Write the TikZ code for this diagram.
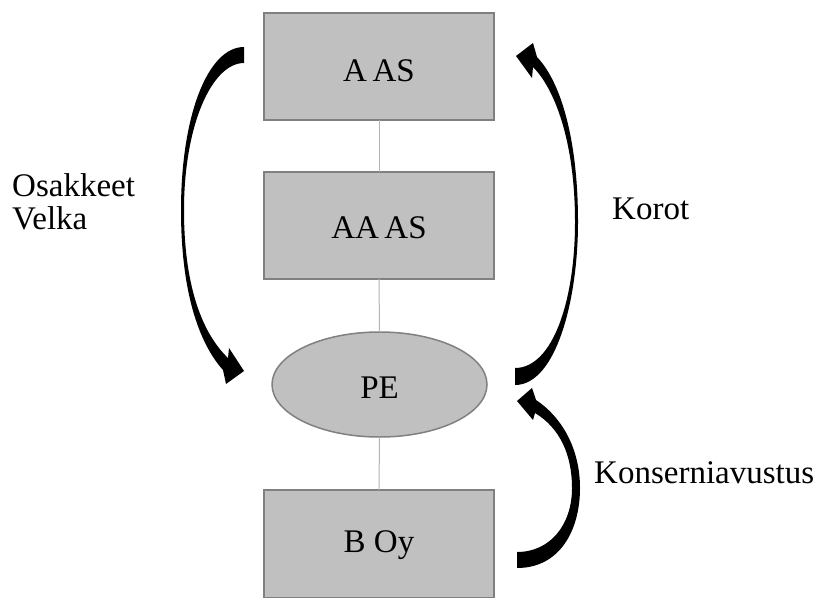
\documentclass[tikz,border=0pt]{standalone}
\usepackage{fontspec}
\setmainfont{Liberation Serif}
\usetikzlibrary{shapes.geometric}
\definecolor{boxfill}{HTML}{C0C0C0}
\definecolor{boxline}{HTML}{808080}
\definecolor{linkline}{HTML}{B4B4B4}
\newcommand{\lowered}[2]{\raisebox{#1}{#2}}
\begin{document}
\begin{tikzpicture}[x=1pt,y=-1pt,
  captext/.style={font=\fontsize{33}{38}\selectfont, text height=22pt, text depth=0pt},
  unit/.style={captext, draw=boxline, fill=boxfill, line width=2pt, minimum width=230pt,
    minimum height=107pt, inner sep=0pt, outer sep=0pt},
  pe/.style={captext, ellipse, draw=boxline, fill=boxfill, line width=1.5pt, minimum width=215pt,
    minimum height=105pt, inner sep=0pt, outer sep=0pt},
  link/.style={draw=linkline, line width=1pt},
  flow/.style={fill=black},
  lbl/.style={font=\fontsize{33}{33}\selectfont, inner sep=0pt, align=left}]
\useasboundingbox (0,0) rectangle (818,597);

% ownership chain
\node[unit] (aas)  at (379,66.5) {\lowered{-3.5pt}{A\,AS}};
\node[unit] (aaas) at (379,225)  {\lowered{-2pt}{AA\,AS}};
\node[pe]   (pe)   at (379.5,384.5) {\lowered{-2.5pt}{PE}};
\node[unit, minimum height=108pt] (boy) at (379,544) {\lowered{3pt}{B Oy}};

\draw[link] (aas.south) -- (aaas.north);
\draw[link] (aaas.south) -- (pe.north);
\draw[link] (pe.south) -- (boy.north);

% shares and debt flowing down
\fill[flow] (244,47) .. controls (208,47) and (181,115) .. (181,210)
  .. controls (181,290) and (198,342) .. (223,370)
  -- (226,384) -- (244,371) -- (229,348) -- (228,358)
  .. controls (204,335) and (184,290) .. (184,210)
  .. controls (184,125) and (212,63) .. (244,63) -- cycle;

% interest flowing up
\fill[flow] (515,385) .. controls (556,385) and (578,300) .. (578,222)
  .. controls (578,140) and (561,82) .. (537,57)
  -- (533,43) -- (516,56) -- (532,78) -- (533,67)
  .. controls (554,88) and (575,140) .. (575,222)
  .. controls (575,300) and (553,368) .. (515,368) -- cycle;

% group contribution flowing up
\fill[flow] (517,568) .. controls (560,568) and (580,530) .. (580,488)
  .. controls (580,450) and (563,418) .. (536,400)
  -- (532,388) -- (517,401) -- (533,420) -- (535,413)
  .. controls (560,428) and (572,455) .. (572,488)
  .. controls (572,525) and (550,552) .. (517,552) -- cycle;

% labels
\node[lbl, anchor=west] (lshare) at (12,202) {Osakkeet\\Velka};
\node[lbl, anchor=base west] (lint) at (612,219) {Korot};
\node[lbl, anchor=base west] (lgrp) at (594,483) {Konserniavustus};
\end{tikzpicture}
\end{document}
